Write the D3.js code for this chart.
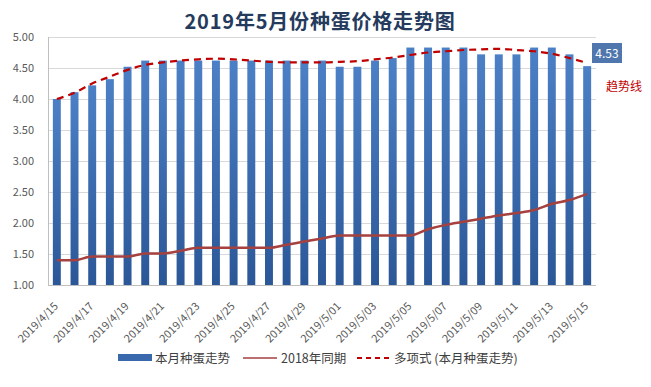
<!DOCTYPE html>
<html>
<head>
<meta charset="utf-8">
<script src="https://cdn.jsdelivr.net/npm/d3@7"></script>
<style>
  body { margin: 0; background: #fff; }
  text { font-family: "Noto Sans CJK SC", "Noto Sans", sans-serif; }
</style>
</head>
<body>
<div id="chart"></div>
<script>
// dates shown on the x axis (one per day)
const dates = [
  "2019/4/15","2019/4/16","2019/4/17","2019/4/18","2019/4/19","2019/4/20","2019/4/21","2019/4/22",
  "2019/4/23","2019/4/24","2019/4/25","2019/4/26","2019/4/27","2019/4/28","2019/4/29","2019/4/30",
  "2019/5/01","2019/5/02","2019/5/03","2019/5/04","2019/5/05","2019/5/06","2019/5/07","2019/5/08",
  "2019/5/09","2019/5/10","2019/5/11","2019/5/12","2019/5/13","2019/5/14","2019/5/15"
];

// 本月种蛋走势 (bars)
const thisMonth = [
  4.00, 4.11, 4.22, 4.32, 4.52, 4.62, 4.62, 4.62, 4.62, 4.62, 4.62, 4.62, 4.62, 4.62, 4.62, 4.62,
  4.52, 4.52, 4.62, 4.66, 4.83, 4.83, 4.83, 4.83, 4.72, 4.72, 4.72, 4.83, 4.83, 4.72, 4.53
];

// 2018年同期 (line)
const lastYear = [
  1.40, 1.40, 1.46, 1.46, 1.46, 1.51, 1.51, 1.55, 1.60, 1.60, 1.60, 1.60, 1.60, 1.65, 1.70, 1.75,
  1.80, 1.80, 1.80, 1.80, 1.80, 1.90, 1.97, 2.02, 2.07, 2.12, 2.16, 2.21, 2.31, 2.37, 2.47
];

// 多项式 trend line
const trend = [
  4.00, 4.10, 4.25, 4.36, 4.47, 4.55, 4.59, 4.62, 4.64, 4.65, 4.64, 4.62, 4.60, 4.59, 4.59, 4.59,
  4.60, 4.61, 4.64, 4.67, 4.71, 4.75, 4.77, 4.79, 4.80, 4.81, 4.79, 4.77, 4.73, 4.66, 4.58
];

const yTicks = [1.00, 1.50, 2.00, 2.50, 3.00, 3.50, 4.00, 4.50, 5.00];

const width = 651, height = 387;
const margin = { top: 37, right: 55, bottom: 102, left: 48 };

const svg = d3.select("#chart").append("svg")
    .attr("width", width)
    .attr("height", height);

const x = d3.scaleBand()
    .domain(dates)
    .range([margin.left, width - margin.right])
    .paddingInner(0.55)
    .paddingOuter(0.275);

const y = d3.scaleLinear()
    .domain([1, 5])
    .range([height - margin.bottom, margin.top]);

// bar gradient
const defs = svg.append("defs");
const grad = defs.append("linearGradient")
    .attr("id", "barGrad")
    .attr("x1", "0%").attr("x2", "0%")
    .attr("y1", "0%").attr("y2", "100%");
grad.append("stop").attr("offset", "0%").attr("stop-color", "#4c80c6");
grad.append("stop").attr("offset", "100%").attr("stop-color", "#2b5797");

// title
svg.append("text")
    .attr("x", 320)
    .attr("y", 29)
    .attr("text-anchor", "middle")
    .style("font-size", "20px")
    .style("font-weight", "bold")
    .style("letter-spacing", "0.8px")
    .style("fill", "#253b5e")
    .text("2019年5月份种蛋价格走势图");

// gridlines
svg.append("g")
    .selectAll("line")
    .data(yTicks.slice(1))
    .join("line")
    .attr("x1", margin.left)
    .attr("x2", width - margin.right)
    .attr("y1", d => y(d) + 0.5)
    .attr("y2", d => y(d) + 0.5)
    .attr("stroke", "#d9d9d9");

// y labels
svg.append("g")
    .selectAll("text")
    .data(yTicks)
    .join("text")
    .attr("x", 34)
    .attr("y", d => y(d) + 4)
    .attr("text-anchor", "end")
    .style("font-size", "11px")
    .style("fill", "#595959")
    .text(d => d.toFixed(2));

// bars
svg.append("g")
    .selectAll("rect")
    .data(thisMonth)
    .join("rect")
    .attr("x", (d, i) => x(dates[i]))
    .attr("y", d => y(d))
    .attr("width", x.bandwidth())
    .attr("height", d => y(1) - y(d))
    .attr("fill", "url(#barGrad)");

// axis lines
svg.append("line")
    .attr("x1", margin.left + 0.5).attr("x2", margin.left + 0.5)
    .attr("y1", margin.top).attr("y2", y(1))
    .attr("stroke", "#bfbfbf");
svg.append("line")
    .attr("x1", margin.left).attr("x2", width - margin.right)
    .attr("y1", y(1) + 0.5).attr("y2", y(1) + 0.5)
    .attr("stroke", "#bfbfbf");

const cx = i => x(dates[i]) + x.bandwidth() / 2;

// 2018 line
const line = d3.line()
    .x((d, i) => cx(i))
    .y(d => y(d))
    .curve(d3.curveMonotoneX);

svg.append("path")
    .datum(lastYear)
    .attr("d", line)
    .attr("fill", "none")
    .attr("stroke", "#a5413f")
    .attr("stroke-width", 2.5);

// trend line
svg.append("path")
    .datum(trend)
    .attr("d", line)
    .attr("fill", "none")
    .attr("stroke", "#c00000")
    .attr("stroke-width", 2.2)
    .attr("stroke-dasharray", "7,5");

// value label for last bar
const last = thisMonth.length - 1;
svg.append("rect")
    .attr("x", 592)
    .attr("y", 43)
    .attr("width", 30)
    .attr("height", 20)
    .attr("fill", "#4f76ad");
svg.append("text")
    .attr("x", 607)
    .attr("y", 57.5)
    .attr("text-anchor", "middle")
    .style("font-size", "12px")
    .style("fill", "#fff")
    .text(thisMonth[last].toFixed(2));

svg.append("text")
    .attr("x", 606)
    .attr("y", 91)
    .style("font-size", "12px")
    .style("fill", "#c00000")
    .text("趋势线");

// x labels (every other day)
svg.append("g")
    .selectAll("text")
    .data(dates.filter((d, i) => i % 2 === 0))
    .join("text")
    .attr("transform", d => `translate(${x(d) + x.bandwidth() / 2 + 2},${y(1) + 22}) rotate(-45)`)
    .attr("text-anchor", "end")
    .style("font-size", "11px")
    .style("fill", "#595959")
    .text(d => d);

// legend
const lg = svg.append("g").attr("transform", "translate(0,358)");
lg.append("rect")
    .attr("x", 118).attr("y", -4)
    .attr("width", 34).attr("height", 7)
    .attr("fill", "#3a68ad");
lg.append("text").attr("x", 155).attr("y", 4.5)
    .style("font-size", "12.5px").style("fill", "#404040")
    .text("本月种蛋走势");
lg.append("line")
    .attr("x1", 243).attr("x2", 277).attr("y1", 0).attr("y2", 0)
    .attr("stroke", "#a5413f").attr("stroke-width", 1.5);
lg.append("text").attr("x", 281).attr("y", 4.5)
    .style("font-size", "12.5px").style("fill", "#404040")
    .text("2018年同期");
lg.append("line")
    .attr("x1", 357).attr("x2", 391).attr("y1", 0).attr("y2", 0)
    .attr("stroke", "#c00000").attr("stroke-width", 2)
    .attr("stroke-dasharray", "5,4");
lg.append("text").attr("x", 394).attr("y", 4.5)
    .style("font-size", "12.5px").style("fill", "#404040")
    .text("多项式 (本月种蛋走势)");
</script>
</body>
</html>
